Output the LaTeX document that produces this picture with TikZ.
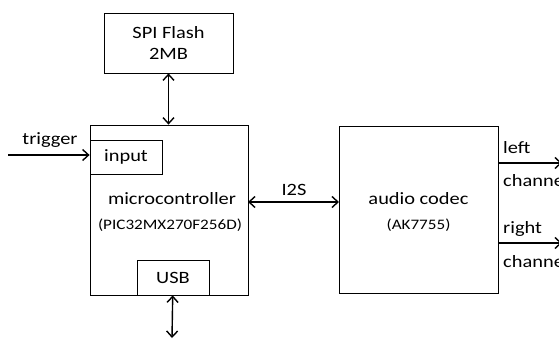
\documentclass[tikz,border=0pt]{standalone}
\usepackage{fontspec}
\setmainfont{Carlito}[FakeStretch=1.18]
\usetikzlibrary{arrows.meta,positioning}

\begin{document}
\begin{tikzpicture}[x=1pt, y=1pt,
		block/.style = {draw, line width=0.8pt, inner sep=0pt},
		link/.style = {line width=1.4pt, -{Straight Barb[length=6pt,width=11pt]}},
		both/.style = {line width=1.4pt, {Straight Barb[length=6pt,width=11pt]}-{Straight Barb[length=6pt,width=11pt]}},
		big/.style = {font=\fontsize{17.3}{21.5}\selectfont},
		small/.style = {font=\fontsize{14.5}{17}\selectfont}]
		\useasboundingbox (0,0) rectangle (559,338);
		% blocks
		\node[block, big, minimum width=129, minimum height=60, align=center] (flash) at (168.5,295) {SPI Flash\\2MB};
		\node[block, minimum width=158, minimum height=170] (mcu) at (169,128) {};
		\node[block, big, minimum width=72, minimum height=34] (input) at (126,181) {input};
		\node[block, big, minimum width=72, minimum height=35] (usb) at (173,60.5) {USB};
		\node[block, minimum width=159, minimum height=167] (codec) at (418.5,128.5) {};
		\node[big] (mcutxt) at (172,139) {microcontroller};
		\node[small] (mcupart) at (170,113) {(PIC32MX270F256D)};
		\node[big] (codectxt) at (418.5,139) {audio codec};
		\node[small] (codecpart) at (418.5,113) {(AK7755)};
		
		% connections
		\coordinate (trig) at (8,183);
		\coordinate (usbend) at (172,0);
		\coordinate (i2sa) at (248,136);
		\coordinate (i2sb) at (339,136);
		\coordinate (la) at (498,175);
		\coordinate (lb) at (562,175);
		\coordinate (ra) at (498,95);
		\coordinate (rb) at (562,95);
		\draw[both] (flash) -- (flash |- mcu.north);
		\draw[link] (trig) -- (trig -| input.west);
		\draw[both] (usb) -- (usbend);
		\draw[both] (i2sa) -- (i2sb);
		\draw[link] (la) -- (lb);
		\draw[link] (ra) -- (rb);
		
		% labels
		\node[big] (triglbl) at (50,198) {trigger};
		\node[big] (i2slbl) at (294,148) {I2S};
		\node[big, anchor=base west, inner sep=0pt] (lefta) at ([shift={(5,10)}]la) {left};
		\node[big, anchor=base west, inner sep=0pt] (leftb) at ([shift={(5,-23)}]la) {channel};
		\node[big, anchor=base west, inner sep=0pt] (righta) at ([shift={(5,10)}]ra) {right};
		\node[big, anchor=base west, inner sep=0pt] (rightb) at ([shift={(5,-24)}]ra) {channel};
	\end{tikzpicture}
\end{document}
